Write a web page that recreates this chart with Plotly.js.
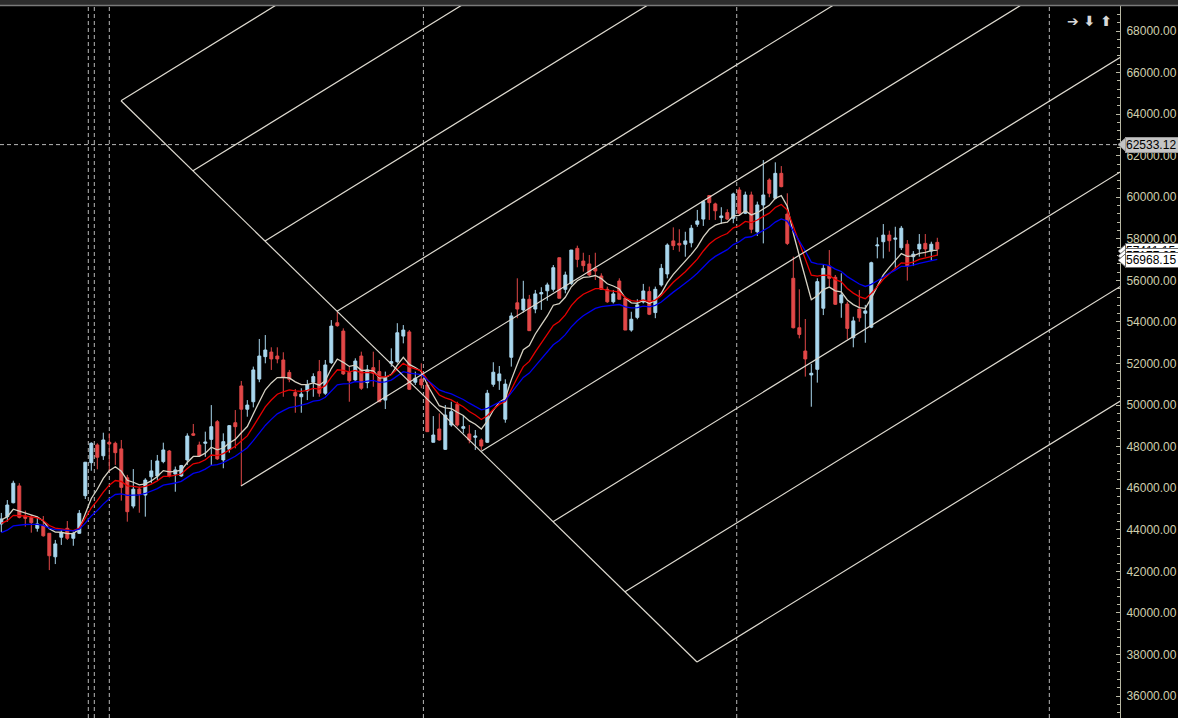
<!DOCTYPE html>
<html>
<head>
<meta charset="utf-8">
<script src="https://cdn.plot.ly/plotly-3.0.1.min.js"></script>
<style>
html,body{margin:0;padding:0;background:#000;overflow:hidden;}
#chart{width:1178px;height:718px;}
</style>
</head>
<body>
<div id="chart"></div>
<script>
// ---- OHLC data (one value per candle, left to right) ----
const open = [44280,44630,45300,46110,44660,44600,44070,44200,43830,42700,43640,44070,43590,43830,45640,47230,48080,47560,48210,48160,
47890,46500,45140,45960,45670,46550,46590,47280,47790,46680,46590,47360,48620,48080,48160,48350,49200,47360,47870,49150,
50920,49800,50160,51250,52330,52550,52360,52170,51570,50600,50400,50680,51100,51610,50570,52040,53960,53560,51570,51210,
52360,51080,51800,51610,50240,52010,52090,53320,53520,51100,51250,50970,48210,48850,47870,49040,50040,48880,48610,48450,
48320,48210,51000,51170,49320,52300,54920,54580,55090,54620,55350,55500,55570,57090,55570,55860,57540,56930,56790,56580,
56210,55570,54970,55970,55140,53610,54220,54960,55460,54450,55780,56310,57900,57780,57740,57810,58700,58950,60080,59680,
59020,59260,58990,60350,59230,60110,58340,59630,60830,59950,61150,59190,56100,53720,52600,51450,51720,54660,56690,56150,
54920,54860,53240,54620,54420,53750,57660,57860,58180,57980,57570,57740,57140,57510,57780,57410,57830];
const high = [44810,45430,46360,46240,44920,44710,44630,44660,43830,43510,43990,44420,43910,44950,47250,48210,48160,48670,48640,48240,
48320,46640,46920,46070,46480,47360,47600,48190,47840,47040,47120,48640,49090,48240,48720,50000,49280,48640,49040,49760,
51160,50240,51850,53180,53370,52780,52780,52540,51690,50770,50810,51210,51530,52170,52170,54090,54490,53690,51850,52250,
52570,51930,52570,52170,51610,52730,53940,53850,53610,51610,52010,51100,49470,49600,50000,50160,50160,49520,49040,48800,
48400,50730,52060,51880,51240,54450,56100,55980,55300,55540,55670,55890,56740,57090,56420,57460,57670,57330,57220,57330,
56340,55700,55540,56100,55220,54490,55090,55830,55700,55700,56790,57780,58550,58460,58340,58670,59390,59870,60110,59740,
59520,59420,60220,60480,60270,60270,59790,61790,60910,61680,61500,60190,57140,55570,54140,51980,56100,56740,57460,56260,
56340,54970,54250,55540,54820,56900,58070,58710,58390,58580,58620,57940,57410,58230,58230,57860,58050];
const low = [43890,44390,45270,44550,44150,43860,43910,43670,42060,42350,43270,43510,43230,43800,45480,46840,46910,47360,46790,47120,
45400,44390,45030,44820,44630,46240,46390,47200,46520,45830,46550,47120,48510,47510,47510,47120,47360,46960,47710,47920,
46110,49440,49890,51100,52010,51690,52010,50400,51100,49630,49630,50240,50400,50400,50490,51980,53770,51450,50160,51120,
50730,50810,50880,50160,49810,51850,52010,52970,50730,50970,50810,48720,48210,48290,47840,48960,48960,48640,48160,47840,
47840,48180,50880,50730,49150,51850,54180,54450,53580,54420,54580,55020,55460,55140,55380,55780,56630,56420,56210,56020,
55540,54920,54890,55090,53610,53530,54130,54890,54330,54180,55700,56100,57460,57380,57140,57590,58580,58620,58910,58910,
58710,58910,58750,59150,59190,58270,58140,57780,60000,59900,60480,57700,53690,53210,51370,49920,51080,54330,55700,54820,
54200,53170,52780,54010,53000,53700,57060,57060,57380,56580,57460,55990,56690,57140,57140,56980,57190];
const close = [44520,45190,46240,44600,44550,44340,44280,43710,42750,43320,43860,43590,43830,44790,47250,48160,47490,48320,48130,47710,
46040,44870,45950,45720,46390,46830,47310,47840,46590,46880,47090,48510,48550,47560,48220,48960,47410,48240,49010,48960,
49800,50000,51690,52360,52650,52220,52220,51340,51240,50440,50530,50970,51370,50570,51930,53800,53820,51500,51170,52120,
50810,51690,51530,50160,51290,52090,53480,53610,50760,51290,50970,48720,48560,48320,49520,49680,49040,48960,48320,48510,
48030,50570,51580,51500,51010,54290,54620,55100,53580,55350,55410,55780,56610,55140,56260,57460,57010,56710,56260,56450,
55570,54970,55350,55090,53610,54130,54820,55490,54370,55570,56580,57700,57670,57700,57900,58510,58860,59790,59740,59350,
59100,58950,60160,59230,60110,58460,59630,60110,60190,61150,60510,57780,53720,53400,52220,51530,55940,56580,56100,54850,
55300,53690,54050,54200,54530,56850,57700,58180,57910,58030,58510,56690,57260,57740,57510,57740,57510];

// ---- moving-average indicator (EMA of the closes), start values read at the first candle ----
const maPeriods = [8, 13, 21];
const maSeeds   = [44470, 44310, 43860];
const maColors  = ['#d6d2c4', '#e80000', '#0000f0'];
const maLabelValues = [57411.15, 57177.05, 56968.15];

// ---- crosshair / separators / channel drawing (data coordinates) ----
const crossPrice = 62533.12;
const separatorBars = [14.5, 15.5, 18.0, 70.35, 122.57, 174.67];
const channelA = [19.95, 64646];   // [bar, price] top end of the base line
const channelB = [115.95, 37637];  // [bar, price] bottom end of the base line
const channelSlope = 178;          // price per bar of the parallel lines
const channelSteps = 8;
const channelBackStart = [39.95, 46106]; // middle line extends back to here

const yTicks = {start: 36000, end: 68000, step: 2000, minor: 400};

// ---------------------------------------------------------------------------
const idx = close.map((_, i) => i);
const X0 = -0.217, X1 = 186.45;
const Y0 = 34942, Y1 = 69203;

function ema(values, period, seed) {
  const a = 2 / (period + 1);
  const out = [seed];
  for (let i = 1; i < values.length; i++) out.push(out[i - 1] + a * (values[i] - out[i - 1]));
  return out;
}

const traces = [{
  type: 'candlestick', x: idx, open: open, high: high, low: low, close: close,
  increasing: {line: {color: '#a9d7ee', width: 1}, fillcolor: '#a9d7ee'},
  decreasing: {line: {color: '#e24848', width: 1}, fillcolor: '#e24848'},
  whiskerwidth: 0, hoverinfo: 'skip', showlegend: false
}];
maPeriods.forEach((p, j) => {
  traces.push({type: 'scatter', mode: 'lines', x: idx, y: ema(close, p, maSeeds[j]),
    line: {color: maColors[j], width: 1.3}, hoverinfo: 'skip', showlegend: false});
});

const shapes = [];
// top bar
shapes.push({type: 'rect', xref: 'paper', yref: 'paper', x0: -0.01, x1: 1.1, y0: 1, y1: 1.0095,
  fillcolor: '#2c2c2c', line: {width: 0}, layer: 'above'});
shapes.push({type: 'line', xref: 'paper', yref: 'paper', x0: -0.01, x1: 1.1, y0: 1.0007, y1: 1.0007,
  line: {color: '#7a7a7a', width: 1.5}, layer: 'above'});
// separators
separatorBars.forEach(b => shapes.push({type: 'line', xref: 'x', yref: 'paper', x0: b, x1: b, y0: 0, y1: 1,
  line: {color: '#b8b8b8', width: 1, dash: '4px,3px'}, layer: 'below'}));
// crosshair
shapes.push({type: 'line', xref: 'paper', yref: 'y', x0: 0, x1: 1, y0: crossPrice, y1: crossPrice,
  line: {color: '#b8b8b8', width: 1, dash: '4px,3px'}, layer: 'below'});
// channel base line
shapes.push({type: 'line', xref: 'x', yref: 'y', x0: channelA[0], y0: channelA[1], x1: channelB[0], y1: channelB[1],
  line: {color: '#dedad0', width: 1.2}});
for (let i = 0; i <= channelSteps; i++) {
  const t = i / channelSteps;
  let sx = channelA[0] + (channelB[0] - channelA[0]) * t;
  let sy = channelA[1] + (channelB[1] - channelA[1]) * t;
  if (i === channelSteps / 2) { sx = channelBackStart[0]; sy = channelBackStart[1]; }
  const ex = X1 + 5;
  shapes.push({type: 'line', xref: 'x', yref: 'y', x0: sx, y0: sy, x1: ex, y1: sy + channelSlope * (ex - sx),
    line: {color: '#dedad0', width: 1.2}});
}

// price labels on the axis
const annotations = [];
const pxPerPrice = 712 / (Y1 - Y0);
function priceTag(v, bg, border) {
  const half = 7 / pxPerPrice;
  shapes.push({type: 'path', xref: 'paper', yref: 'y',
    path: `M ${1118/1120} ${v} L ${1126/1120} ${v + half} L ${1126/1120} ${v - half} Z`,
    fillcolor: bg, line: {color: border, width: 1}, layer: 'above'});
  annotations.push({xref: 'paper', yref: 'y', x: 1125 / 1120, y: v, xanchor: 'left', yanchor: 'middle',
    text: v.toFixed(2), showarrow: false, bgcolor: bg, bordercolor: border, borderwidth: 1, borderpad: 0,
    font: {family: 'Liberation Sans, Arial, sans-serif', size: 12, color: '#000'}, width: 54, align: 'left'});
}
priceTag(crossPrice, '#c4c4c4', '#9a9a9a');
maLabelValues.forEach(v => priceTag(v, '#ffffff', '#6a6a6a'));

annotations.push({xref: 'paper', yref: 'paper', x: 1114 / 1120, y: 1 - 5 / 712, xanchor: 'right', yanchor: 'top',
  text: '<b>➔ ⬇ ⬆</b>', showarrow: false, font: {family: 'DejaVu Sans, sans-serif', size: 14, color: '#d8d8d8'}});

const layout = {
  width: 1178, height: 718,
  margin: {l: 0, r: 58, t: 6, b: 0},
  paper_bgcolor: '#000', plot_bgcolor: '#000',
  showlegend: false, dragmode: false,
  xaxis: {range: [X0, X1], showgrid: false, zeroline: false, showticklabels: false, ticks: '',
    rangeslider: {visible: false}, showline: false, fixedrange: true},
  yaxis: {side: 'right', range: [Y0, Y1], showgrid: false, zeroline: false, fixedrange: true,
    tickmode: 'linear', tick0: yTicks.start, dtick: yTicks.step, tickformat: '.2f',
    ticks: 'inside', ticklen: 4, tickcolor: '#b8b8a4', tickwidth: 1, ticklabelstandoff: 3,
    showline: true, linecolor: '#b8b8a4', linewidth: 1,
    minor: {dtick: yTicks.minor, ticks: 'inside', ticklen: 3, tickcolor: '#b8b8a4', showgrid: false},
    tickfont: {family: 'Liberation Sans, Arial, sans-serif', size: 12, color: '#cfcfae'}},
  shapes: shapes, annotations: annotations
};

Plotly.newPlot('chart', traces, layout, {displayModeBar: false, staticPlot: true});
</script>
</body>
</html>
